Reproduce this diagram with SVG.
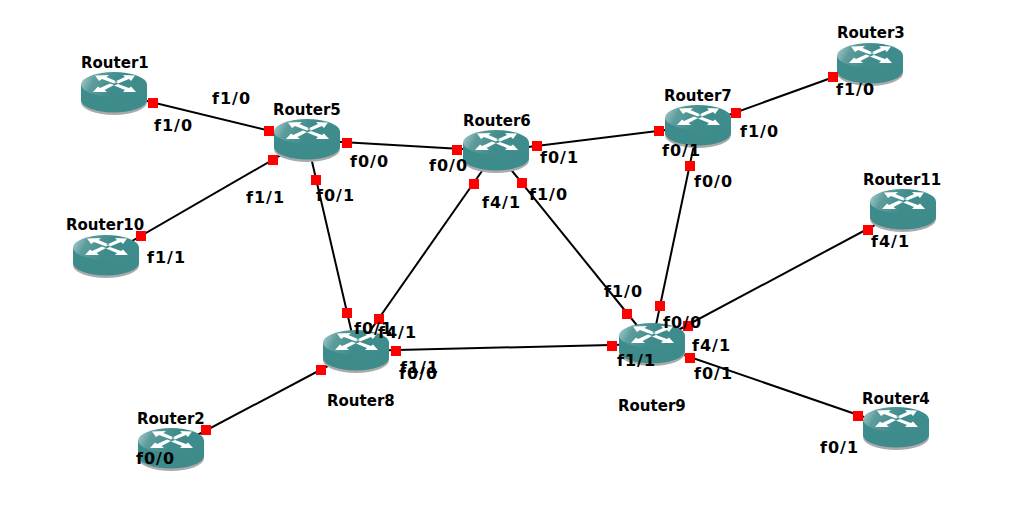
<svg xmlns="http://www.w3.org/2000/svg" width="1030" height="507" viewBox="0 0 1030 507">
<style>
text{font-family:"DejaVu Sans","Liberation Sans",sans-serif;font-weight:bold;font-size:15px;fill:#000;transform:translateY(1px)}
.f{font-size:16px;letter-spacing:1px}
.l{stroke:#000;stroke-width:2;fill:none}
.p{fill:#f00}
</style>
<defs>
<linearGradient id="top" x1="0" y1="0" x2="1" y2="0.2"><stop offset="0" stop-color="#b5d2d2"/><stop offset="0.25" stop-color="#5d9c9c"/><stop offset="0.6" stop-color="#3f8c8c"/><stop offset="1" stop-color="#3f8c8c"/></linearGradient>
<g id="router">
<path d="M0 14V28A33 13 0 0 0 66 28V14Z" fill="#aaa" transform="translate(0 2)"/>
<path d="M0 12.500V28A33 12.500 0 0 0 66 28V12.500Z" fill="#3d8b8b"/>
<ellipse cx="33" cy="12.500" rx="33" ry="12.500" fill="url(#top)"/>
<path d="M14 3.500L28 3L25.500 5L37 10L33 11.500L21 7L18 9ZM54 3.500L42 3L44 5L33 10L37 11.500L48 7L50 9ZM12 20L26 20L23.500 18L33 13L29 11.500L19 16L17 14.500ZM55 20L42 20L44 18L33 13.500L37 12L48 16L50 14.500Z" fill="#fff"/>
</g>
</defs>
<rect width="1030" height="507" fill="#fff"/>
<g id="connectors">
<path class="l" d="M114 93L307 140"/>
<path class="l" d="M106 256L307 140"/>
<path class="l" d="M307 140L496 151"/>
<path class="l" d="M307 140L356 351"/>
<path class="l" d="M496 151L698 126"/>
<path class="l" d="M496 151L356 351"/>
<path class="l" d="M496 151L652 344"/>
<path class="l" d="M698 126L870 64"/>
<path class="l" d="M698 126L652 344"/>
<path class="l" d="M356 351L652 344"/>
<path class="l" d="M356 351L171 449"/>
<path class="l" d="M652 344L903 210"/>
<path class="l" d="M652 344L896 428"/>
</g>
<g id="router1"><use href="#router" x="81" y="72"/><text x="81" y="67">Router1</text><rect class="p" x="148" y="98" width="10" height="10"/><text class="f" x="154" y="130">f1/0</text></g>
<g id="router5"><use href="#router" x="274" y="119"/><text x="273" y="114">Router5</text><rect class="p" x="264" y="126" width="10" height="10"/><text class="f" x="212" y="103">f1/0</text><rect class="p" x="268" y="155" width="10" height="10"/><text class="f" x="246" y="202">f1/1</text><rect class="p" x="342" y="138" width="10" height="10"/><text class="f" x="350" y="166">f0/0</text><rect class="p" x="311" y="175" width="10" height="10"/><text class="f" x="316" y="200">f0/1</text></g>
<g id="router6"><use href="#router" x="463" y="130"/><text x="463" y="125">Router6</text><rect class="p" x="452" y="145" width="10" height="10"/><text class="f" x="429" y="170">f0/0</text><rect class="p" x="532" y="141" width="10" height="10"/><text class="f" x="540" y="162">f0/1</text><rect class="p" x="469" y="179" width="10" height="10"/><text class="f" x="482" y="207">f4/1</text><rect class="p" x="517" y="178" width="10" height="10"/><text class="f" x="529" y="199">f1/0</text></g>
<g id="router7"><use href="#router" x="665" y="105"/><text x="664" y="100">Router7</text><rect class="p" x="654" y="126" width="10" height="10"/><text class="f" x="662" y="155">f0/1</text><rect class="p" x="731" y="108" width="10" height="10"/><text class="f" x="740" y="136">f1/0</text><rect class="p" x="685" y="161" width="10" height="10"/><text class="f" x="694" y="186">f0/0</text></g>
<g id="router3"><use href="#router" x="837" y="43"/><text x="837" y="37">Router3</text><rect class="p" x="828" y="72" width="10" height="10"/><text class="f" x="836" y="94">f1/0</text></g>
<g id="router11"><use href="#router" x="870" y="189"/><text x="863" y="184">Router11</text><rect class="p" x="863" y="225" width="10" height="10"/><text class="f" x="871" y="246">f4/1</text></g>
<g id="router10"><use href="#router" x="73" y="235"/><text x="66" y="229">Router10</text><rect class="p" x="136" y="231" width="10" height="10"/><text class="f" x="147" y="262">f1/1</text></g>
<g id="router8"><use href="#router" x="323" y="330"/><rect class="p" x="342" y="308" width="10" height="10"/><rect class="p" x="374" y="314" width="10" height="10"/><rect class="p" x="391" y="346" width="10" height="10"/><rect class="p" x="316" y="365" width="10" height="10"/><text class="f" x="354" y="333">f0/1</text><text class="f" x="378" y="337">f4/1</text><text class="f" x="400" y="372">f1/1</text><text class="f" x="399" y="378">f0/0</text><text x="327" y="405">Router8</text></g>
<g id="router9"><use href="#router" x="619" y="323"/><rect class="p" x="622" y="309" width="10" height="10"/><rect class="p" x="655" y="301" width="10" height="10"/><rect class="p" x="683" y="321" width="10" height="10"/><rect class="p" x="607" y="341" width="10" height="10"/><rect class="p" x="685" y="353" width="10" height="10"/><text class="f" x="604" y="296">f1/0</text><text class="f" x="663" y="327">f0/0</text><text class="f" x="692" y="350">f4/1</text><text class="f" x="617" y="365">f1/1</text><text class="f" x="694" y="378">f0/1</text><text x="618" y="410">Router9</text></g>
<g id="router2"><use href="#router" x="138" y="428"/><text x="137" y="423">Router2</text><rect class="p" x="201" y="425" width="10" height="10"/><text class="f" x="136" y="463">f0/0</text></g>
<g id="router4"><use href="#router" x="863" y="407"/><text x="862" y="403">Router4</text><rect class="p" x="853" y="411" width="10" height="10"/><text class="f" x="820" y="452">f0/1</text></g>
</svg>
